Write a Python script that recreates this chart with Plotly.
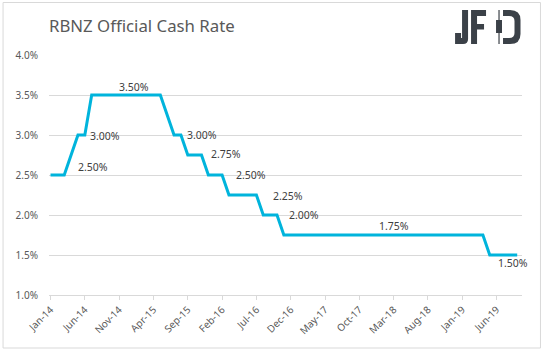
import plotly.graph_objects as go
import pandas as pd

# ---- data ----
months = pd.date_range("2014-01-01", "2019-09-01", freq="MS")
rates = ([2.50, 2.50, 2.50, 2.75, 3.00, 3.00] + [3.50] * 11 + [3.25, 3.00, 3.00]
         + [2.75] * 3 + [2.50] * 3 + [2.25] * 5 + [2.00] * 3 + [1.75] * 30 + [1.50] * 5)
month_idx = list(range(len(months)))
tick_idx = list(range(0, len(months), 5))
tick_text = [months[i].strftime("%b-%y") for i in tick_idx]

label_text = ["2.50%", "3.00%", "3.50%", "3.00%", "2.75%", "2.50%", "2.25%", "2.00%", "1.75%", "1.50%"]
label_x = [6.2, 8.0, 12.2, 22.0, 25.6, 29.2, 34.6, 37.0, 50.1, 67.4]
label_y = [2.60, 2.99, 3.60, 3.00, 2.76, 2.50, 2.24, 2.00, 1.86, 1.40]

TXT = "#595959"
GRID = "#d9d9d9"
FONT = "Noto Sans"
ML, MT = 48.5, 55.0
PW, PH = 473.5, 240.0  # plot area size in px


def X(px):
    return (px - ML) / PW


def Y(py):
    return 1 - (py - MT) / PH


def path(pts_cmds):
    out = []
    for c in pts_cmds:
        if isinstance(c, str):
            out.append(c)
        else:
            out.append(f"{X(c[0]):.5f},{Y(c[1]):.5f}")
    return " ".join(out)


fig = go.Figure()
fig.add_trace(go.Scatter(x=month_idx, y=rates, mode="lines",
                         line=dict(color="#00b4dc", width=3), hoverinfo="skip"))

for t, x, y in zip(label_text, label_x, label_y):
    fig.add_annotation(x=x, y=y, text=t, showarrow=False,
                       font=dict(family=FONT, size=10.5, color="#404040"))

fig.add_annotation(xref="paper", yref="paper", x=X(46.5), y=Y(26), xanchor="left", yanchor="middle",
                   text="RBNZ Official Cash Rate", showarrow=False,
                   font=dict(family=FONT, size=16.8, color=TXT))

fig.update_layout(
    width=543, height=351,
    margin=dict(l=ML, r=21, t=MT, b=56),
    paper_bgcolor="white", plot_bgcolor="white",
    showlegend=False,
    xaxis=dict(range=[-0.22, 68.7], tickvals=tick_idx, ticktext=tick_text, tickangle=-45,
               showgrid=False, zeroline=False, showline=True, linecolor=GRID, linewidth=1,
               ticks="outside", ticklen=4, tickcolor=GRID,
               tickfont=dict(family=FONT, size=10, color=TXT)),
    yaxis=dict(range=[1.0, 4.0], dtick=0.5, tickformat=".1f", ticksuffix="%",
               showgrid=True, gridcolor=GRID, gridwidth=1, zeroline=False, showline=False,
               ticklabelstandoff=10,
               tickfont=dict(family=FONT, size=10, color=TXT)),
)

# ---- JFD logo (decorative shapes) ----
LOGO = "#3b4148"
logo_paths = [
    # J
    ["M", (455, 33), "L", (461, 33), "L", (461, 38), "L", (462, 38), "L", (462, 10), "L", (468, 10),
     "L", (468, 39), "Q", (468, 44), (463, 44), "L", (455, 44), "Z"],
    # F
    ["M", (471, 10), "L", (486, 10), "L", (486, 16), "L", (477, 16), "L", (477, 24), "L", (484, 24),
     "L", (484, 29.5), "L", (477, 29.5), "L", (477, 44), "L", (471, 44), "Z"],
    # D bowl with hole
    ["M", (503, 10), "L", (510, 10), "Q", (520.5, 10), (520.5, 20), "L", (520.5, 34), "Q", (520.5, 44), (510, 44),
     "L", (503, 44), "Z",
     "M", (503, 16), "L", (503, 38), "L", (509, 38), "Q", (514.5, 38), (514.5, 33), "L", (514.5, 21),
     "Q", (514.5, 16), (509, 16), "Z"],
    # candle body
    ["M", (496, 20), "L", (502, 20), "L", (502, 33), "L", (496, 33), "Z"],
    # candle wick
    ["M", (498.4, 10), "L", (499.6, 10), "L", (499.6, 44), "L", (498.4, 44), "Z"],
]
for p in logo_paths:
    fig.add_shape(type="path", xref="paper", yref="paper", path=path(p),
                  fillcolor=LOGO, line=dict(width=0), layer="above")

# outer border
fig.add_shape(type="rect", xref="paper", yref="paper",
              x0=X(2.5), x1=X(540.5), y0=Y(348), y1=Y(2.5),
              line=dict(color=GRID, width=1), fillcolor="rgba(0,0,0,0)", layer="above")

fig.write_html("out.html")
